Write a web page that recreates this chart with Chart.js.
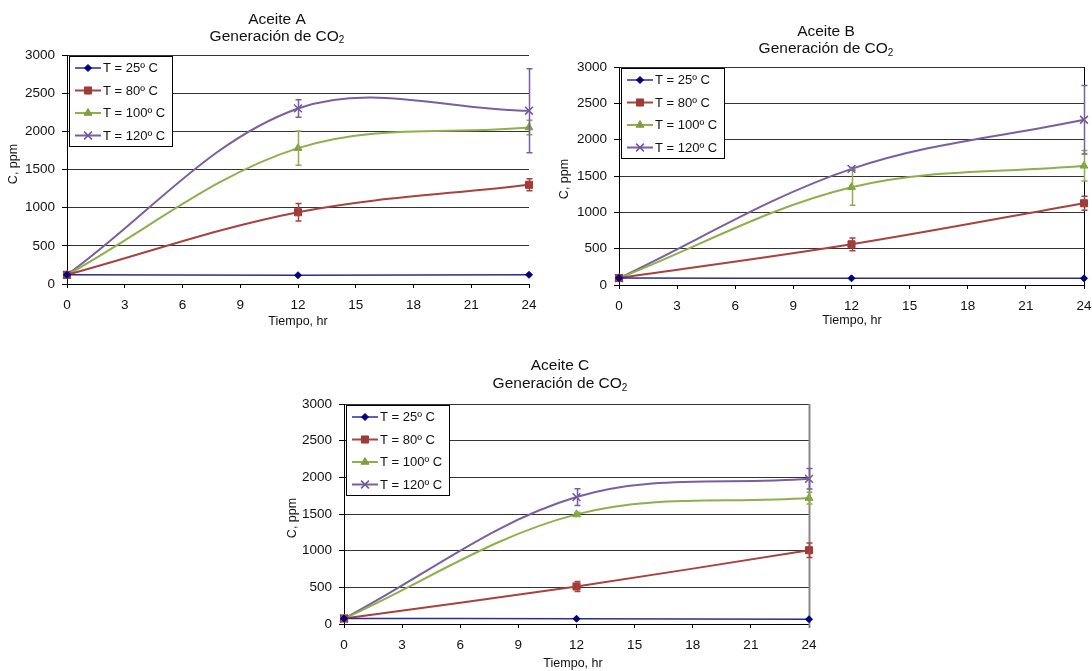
<!DOCTYPE html>
<html><head><meta charset="utf-8">
<script src="https://cdn.jsdelivr.net/npm/chart.js@4"></script>
<style>
html,body{margin:0;padding:0;background:#fff;width:1092px;height:671px;overflow:hidden;position:relative}
.box{position:absolute}
</style></head><body>
<div class="box" style="left:0;top:0;width:547px;height:335px"><canvas id="cA"></canvas></div>
<div class="box" style="left:546px;top:0;width:556px;height:335px"><canvas id="cB"></canvas></div>
<div class="box" style="left:273px;top:335px;width:554px;height:336px"><canvas id="cC"></canvas></div>
<script>
// ---- data ----
const hours = [0, 12, 24];
const xTickValues = [0, 3, 6, 9, 12, 15, 18, 21, 24];
const yTickValues = [0, 500, 1000, 1500, 2000, 2500, 3000];
const seriesLabels = ['T = 25º C', 'T = 80º C', 'T = 100º C', 'T = 120º C'];
const chartTitles = ['Aceite A', 'Aceite B', 'Aceite C'];
const subTitleMain = 'Generación de CO';
const subTitleSub = '2';
const xAxisTitle = 'Tiempo, hr';
const yAxisTitle = 'C, ppm';

// Aceite A
const a25 = [120, 115, 120];
const a80 = [120, 940, 1300];
const a100 = [120, 1780, 2050];
const a120 = [120, 2300, 2270];
const a25Err = [0, 0, 0];
const a80Err = [0, 115, 80];
const a100Err = [0, 225, 95];
const a120Err = [0, 115, 550];
// Aceite B
const b25 = [95, 92, 92];
const b80 = [95, 560, 1125];
const b100 = [95, 1346, 1640];
const b120 = [95, 1598, 2274];
const b25Err = [0, 0, 0];
const b80Err = [0, 87, 96];
const b100Err = [0, 247, 210];
const b120Err = [0, 20, 470];
// Aceite C
const c25 = [75, 72, 65];
const c80 = [75, 512, 1006];
const c100 = [75, 1495, 1717];
const c120 = [75, 1731, 1980];
const c25Err = [0, 0, 0];
const c80Err = [0, 68, 100];
const c100Err = [0, 30, 80];
const c120Err = [0, 115, 140];

// ---- styles ----
const FAM = '"Liberation Sans", Arial, Helvetica, sans-serif';
const lineColors = ['#2b2b9b', '#a8423f', '#8db04b', '#7a5fa0'];
const markColors = ['#000080', '#9e3b38', '#7f9f3f', '#6e5896'];
const lineWidths = [1.5, 2, 2, 2];
const pStyles = ['rectRot', 'rect', 'triangle', 'crossRot'];
const pRadii = [3.5, 5, 4.5, 5.5];

function drawShape(ctx, style, x, y, r, color) {
  ctx.save();
  ctx.fillStyle = color; ctx.strokeStyle = color; ctx.lineWidth = 1;
  ctx.beginPath();
  if (style === 'rectRot') {
    ctx.moveTo(x, y - r); ctx.lineTo(x + r, y); ctx.lineTo(x, y + r); ctx.lineTo(x - r, y); ctx.closePath(); ctx.fill(); ctx.stroke();
  } else if (style === 'rect') {
    const s = r * Math.SQRT1_2; ctx.rect(x - s, y - s, 2 * s, 2 * s); ctx.fill(); ctx.stroke();
  } else if (style === 'triangle') {
    let a = 0;
    ctx.moveTo(x + Math.sin(a) * r, y - Math.cos(a) * r);
    a += 2 * Math.PI / 3; ctx.lineTo(x + Math.sin(a) * r, y - Math.cos(a) * r);
    a += 2 * Math.PI / 3; ctx.lineTo(x + Math.sin(a) * r, y - Math.cos(a) * r);
    ctx.closePath(); ctx.fill(); ctx.stroke();
  } else {
    const d = r * Math.SQRT1_2; ctx.lineWidth = 1.5;
    ctx.moveTo(x - d, y - d); ctx.lineTo(x + d, y + d);
    ctx.moveTo(x - d, y + d); ctx.lineTo(x + d, y - d); ctx.stroke();
  }
  ctx.restore();
}

const decorPlugin = {
  id: 'decor',
  beforeDatasetsDraw(chart) {
    const o = chart.options.plugins.decor; const ctx = chart.ctx; const ca = chart.chartArea;
    if (o.rightBorder) {
      ctx.save(); ctx.strokeStyle = o.rightBorder; ctx.lineWidth = o.rightBorderWidth || 1;
      ctx.beginPath(); ctx.moveTo(ca.right + 0.5, ca.top); ctx.lineTo(ca.right + 0.5, ca.bottom + 4); ctx.stroke(); ctx.restore();
    }
  },
  afterDatasetsDraw(chart) {
    const ctx = chart.ctx; const xs = chart.scales.x, ys = chart.scales.y;
    chart.data.datasets.forEach((ds, i) => {
      ctx.save(); ctx.strokeStyle = lineColors[i]; ctx.lineWidth = 1.5;
      ds.data.forEach((p, j) => {
        const e = ds.errors[j]; if (!e) return;
        const px = Math.round(xs.getPixelForValue(p.x)) + 0.5;
        const y1 = ys.getPixelForValue(p.y + e), y2 = ys.getPixelForValue(p.y - e);
        ctx.beginPath(); ctx.moveTo(px, y1); ctx.lineTo(px, y2);
        ctx.moveTo(px - 3, y1); ctx.lineTo(px + 3, y1);
        ctx.moveTo(px - 3, y2); ctx.lineTo(px + 3, y2); ctx.stroke();
      });
      ctx.restore();
    });
  },
  afterDraw(chart) {
    const o = chart.options.plugins.decor; const ctx = chart.ctx; const ca = chart.chartArea;
    ctx.save();
    ctx.fillStyle = '#111';
    // title
    ctx.font = '15.5px ' + FAM; ctx.textAlign = 'center'; ctx.textBaseline = 'middle';
    ctx.fillText(o.title, o.tx, o.ty1);
    const w1 = ctx.measureText(subTitleMain).width;
    ctx.font = '10px ' + FAM; const w2 = ctx.measureText(subTitleSub).width;
    const sx = o.tx - (w1 + w2) / 2;
    ctx.textAlign = 'left';
    ctx.font = '15.5px ' + FAM; ctx.fillText(subTitleMain, sx, o.ty2);
    ctx.font = '10px ' + FAM; ctx.fillText(subTitleSub, sx + w1, o.ty2 + 4);
    // axis titles
    ctx.font = '12.5px ' + FAM; ctx.textAlign = 'center';
    ctx.fillText(xAxisTitle, o.xtx, o.xty);
    ctx.save(); ctx.translate(o.ytx, o.yty); ctx.rotate(-Math.PI / 2); ctx.fillText(yAxisTitle, 0, 0); ctx.restore();
    // legend
    const lx = ca.left + 2, ly = ca.top + 1, lw = 103, lh = 90;
    ctx.fillStyle = '#fff'; ctx.fillRect(lx, ly, lw, lh);
    ctx.strokeStyle = '#000'; ctx.lineWidth = 1; ctx.strokeRect(lx + 0.5, ly + 0.5, lw, lh);
    chart.data.datasets.forEach((ds, i) => {
      const ry = ly + 12 + 22.5 * i;
      ctx.strokeStyle = lineColors[i]; ctx.lineWidth = lineWidths[i];
      ctx.beginPath(); ctx.moveTo(lx + 6, ry); ctx.lineTo(lx + 32, ry); ctx.stroke();
      drawShape(ctx, pStyles[i], lx + 19, ry, pRadii[i], markColors[i]);
      ctx.fillStyle = '#111'; ctx.font = '13px ' + FAM; ctx.textAlign = 'left'; ctx.textBaseline = 'middle';
      ctx.fillText(ds.label, lx + 34, ry + 0.5);
    });
    ctx.restore();
  }
};

function makeChart(id, series, errs, pad, decor) {
  const datasets = series.map((vals, i) => ({
    label: seriesLabels[i],
    data: hours.map((h, j) => ({ x: h, y: vals[j] })),
    errors: errs[i],
    borderColor: lineColors[i],
    backgroundColor: markColors[i],
    pointBackgroundColor: markColors[i],
    pointBorderColor: markColors[i],
    borderWidth: lineWidths[i],
    pointStyle: pStyles[i],
    pointRadius: pRadii[i],
    pointBorderWidth: i === 3 ? 1.5 : 1,
    tension: 0.35,
    fill: false,
    clip: false
  }));
  return new Chart(document.getElementById(id), {
    type: 'line',
    data: { datasets },
    options: {
      responsive: true, maintainAspectRatio: false, animation: false,
      layout: { padding: pad },
      plugins: { legend: { display: false }, tooltip: { enabled: false }, title: { display: false }, decor },
      scales: {
        x: {
          type: 'linear', min: 0, max: 24,
          afterBuildTicks: s => { s.ticks = xTickValues.map(v => ({ value: v })); },
          afterFit: s => { s.height = 30; },
          grid: { drawOnChartArea: false, drawTicks: true, tickLength: 4, tickColor: '#000' },
          border: { display: true, color: '#000', width: 1 },
          ticks: { color: '#111', font: { size: 13.5, family: FAM }, padding: 9, maxRotation: 0, autoSkip: false,
                   callback: v => String(v) }
        },
        y: {
          type: 'linear', min: 0, max: 3000,
          afterBuildTicks: s => { s.ticks = yTickValues.map(v => ({ value: v })); },
          afterFit: s => { s.width = 60; },
          grid: { color: '#333', lineWidth: 1, drawTicks: true, tickLength: 5, tickColor: '#000' },
          border: { display: true, color: '#000', width: 1 },
          ticks: { color: '#111', font: { size: 13.5, family: FAM }, padding: 7, callback: v => String(v) }
        }
      }
    },
    plugins: [decorPlugin]
  });
}

makeChart('cA', [a25, a80, a100, a120], [a25Err, a80Err, a100Err, a120Err],
  { left: 7, right: 18, top: 55, bottom: 21 },
  { title: chartTitles[0], tx: 277, ty1: 20, ty2: 36.5, xtx: 298, xty: 322, ytx: 14, yty: 164, rightBorder: null });
makeChart('cB', [b25, b80, b100, b120], [b25Err, b80Err, b100Err, b120Err],
  { left: 13, right: 18, top: 67, bottom: 20 },
  { title: chartTitles[1], tx: 280, ty1: 31.5, ty2: 49, xtx: 306, xty: 321, ytx: 19, yty: 179, rightBorder: '#000' });
makeChart('cC', [c25, c80, c100, c120], [c25Err, c80Err, c100Err, c120Err],
  { left: 11, right: 18, top: 69, bottom: 17 },
  { title: chartTitles[2], tx: 287, ty1: 31, ty2: 49, xtx: 300, xty: 329, ytx: 20, yty: 183, rightBorder: '#888', rightBorderWidth: 2 });
</script>
</body></html>
